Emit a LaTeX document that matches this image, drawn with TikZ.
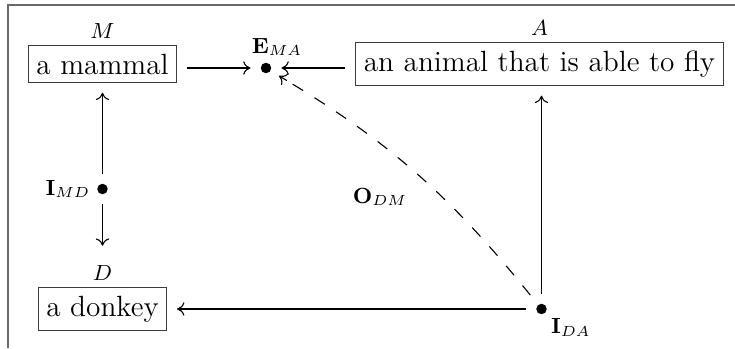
\documentclass[tikz,border=0pt]{standalone}
\usepackage{amsmath}
\usepackage{tikz}
\usetikzlibrary{arrows.meta,positioning,calc}
\definecolor{FrameGray}{RGB}{105,105,105}
\definecolor{BoxGray}{RGB}{60,60,60}
\tikzset{
  termnode/.style={draw=BoxGray,line width=0.5pt,inner sep=3.3pt,font=\large},
  propnode/.style={circle,fill=black,inner sep=0pt,minimum size=4.3pt},
  termlabel/.style={font=\small,inner sep=1pt},
  relarrow/.style={-{To[length=3pt,width=5.5pt]},line width=0.45pt,shorten <=4pt,shorten >=4pt},
  oppline/.style={line width=0.45pt,dash pattern=on 5pt off 5.5pt,shorten <=5pt,shorten >=9.5pt},
  opptip/.style={-{To[length=3pt,width=5.5pt]},line width=0.45pt},
  framerule/.style={draw=FrameGray,line width=0.6pt}
}
\begin{document}
\begin{tikzpicture}[x=0.41pt,y=-0.41pt,label distance=1.5pt]
\useasboundingbox (0,0) rectangle (735,348);
\draw[framerule] (735,5) -- (8,5) -- (8,348);

% the three terms
\node[termnode,label={[termlabel]above:$M$}] (mammal) at (102.5,64) {a mammal};
\node[termnode,label={[termlabel]above:$A$}] (flyer) at (539.5,64) {an animal that is able to fly};
\node[termnode,label={[termlabel]above:$D$}] (donkey) at (102.5,309) {a donkey};

% propositions
\node[propnode,label={[termlabel,xshift=4.5pt]above:$\mathbf{E}_{MA}$}] (ema) at (266,68) {};
\node[propnode,label={[termlabel]left:$\mathbf{I}_{MD}$}] (imd) at (102.5,189) {};
\node[propnode,label={[termlabel]below right:$\mathbf{I}_{DA}$}] (ida) at (541.5,309) {};

\draw[relarrow] (mammal.east |- ema) -- (ema);
\draw[relarrow] (flyer.west |- ema) -- (ema);
\draw[relarrow] (imd) -- (mammal);
\draw[relarrow,shorten >=17pt] (imd) -- (donkey);
\draw[relarrow] (ida) -- (ida |- flyer.south);
\draw[relarrow] (ida) -- (donkey);

% opposition, dashed with a solid tip
\draw[oppline] (ida) to[bend right=10] node[termlabel,pos=0.5,below left=4.5pt and 2.5pt] {$\mathbf{O}_{DM}$} (ema);
\coordinate (oback) at ($(ema)+(-31:10pt)$);
\coordinate (ofront) at ($(ema)+(-31:6.2pt)$);
\draw[opptip] (oback) -- (ofront);
\end{tikzpicture}
\end{document}
